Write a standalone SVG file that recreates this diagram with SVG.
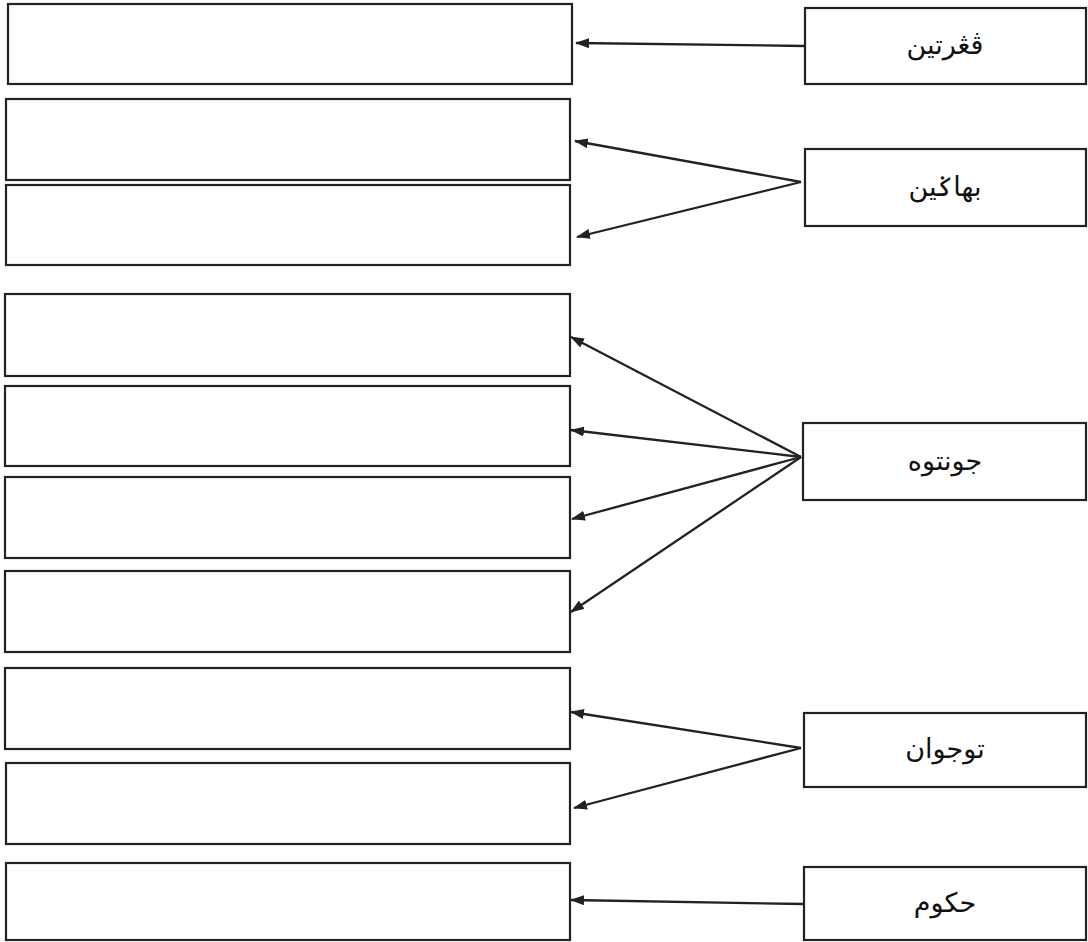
<svg xmlns="http://www.w3.org/2000/svg" width="1088" height="942" viewBox="0 0 1088 942">
<style>
.box{fill:#fff;stroke:#222;stroke-width:2.2}
.lbl{font-family:"DejaVu Sans","Noto Sans",serif;font-size:27px;fill:#111;text-anchor:middle;direction:rtl}
.con{stroke:#222;stroke-width:2.3;fill:none;marker-end:url(#ah)}
</style>
<defs>
<marker id="ah" viewBox="0 0 14 10" refX="13" refY="5" markerWidth="14" markerHeight="10" markerUnits="userSpaceOnUse" orient="auto">
<path d="M0,0 L14,5 L0,10 z" fill="#222"/>
</marker>
</defs>
<rect width="1088" height="942" fill="#fff"/>
<g id="blank1"><rect class="box" x="8" y="4" width="564" height="80"/></g>
<g id="blank2"><rect class="box" x="6" y="99" width="564" height="81"/></g>
<g id="blank3"><rect class="box" x="6" y="185" width="564" height="80"/></g>
<g id="blank4"><rect class="box" x="5" y="294" width="565" height="82"/></g>
<g id="blank5"><rect class="box" x="5" y="386" width="565" height="80"/></g>
<g id="blank6"><rect class="box" x="5" y="477" width="565" height="81"/></g>
<g id="blank7"><rect class="box" x="5" y="571" width="565" height="81"/></g>
<g id="blank8"><rect class="box" x="5" y="668" width="565" height="81"/></g>
<g id="blank9"><rect class="box" x="6" y="763" width="564" height="81"/></g>
<g id="blank10"><rect class="box" x="6" y="863" width="564" height="77"/></g>
<g id="pengertian"><rect class="box" x="805" y="8" width="281" height="76"/><text class="lbl" x="945" y="54">ڤڠرتين</text></g>
<g id="bahagian"><rect class="box" x="805" y="149" width="281" height="77"/><text class="lbl" x="945" y="196">بهاݢين</text></g>
<g id="contoh"><rect class="box" x="803" y="423" width="283" height="77"/><text class="lbl" x="945" y="470">جونتوه</text></g>
<g id="tujuan"><rect class="box" x="804" y="713" width="282" height="74"/><text class="lbl" x="945" y="758">توجوان</text></g>
<g id="hukum"><rect class="box" x="804" y="867" width="282" height="73"/><text class="lbl" x="945" y="912">حكوم</text></g>
<g id="connectors">
<line class="con" x1="804" y1="46" x2="576" y2="43"/>
<line class="con" x1="801" y1="182" x2="575" y2="141"/>
<line class="con" x1="801" y1="182" x2="577" y2="237"/>
<line class="con" x1="801" y1="457" x2="571" y2="337"/>
<line class="con" x1="801" y1="457" x2="571" y2="430"/>
<line class="con" x1="801" y1="457" x2="572" y2="519"/>
<line class="con" x1="801" y1="457" x2="571" y2="612"/>
<line class="con" x1="801" y1="748" x2="571" y2="712"/>
<line class="con" x1="801" y1="748" x2="574" y2="808"/>
<line class="con" x1="804" y1="904" x2="571" y2="900"/>
</g>
</svg>
